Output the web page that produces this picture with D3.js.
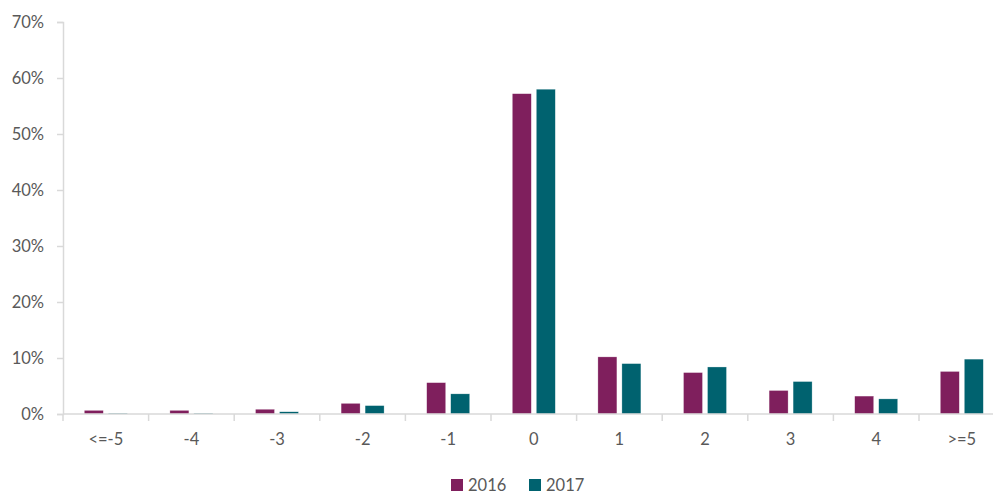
<!DOCTYPE html>
<html>
<head>
<meta charset="utf-8">
<script src="https://cdn.jsdelivr.net/npm/d3@7"></script>
<style>
  body { margin: 0; background: #fff; }
  svg { display: block; font-family: Lato, "Open Sans", sans-serif; }
</style>
</head>
<body>
<svg id="chart" width="993" height="494"></svg>
<script>
// data
const categories = ["<=-5", "-4", "-3", "-2", "-1", "0", "1", "2", "3", "4", ">=5"];
const years = ["2016", "2017"];
const values2016 = [0.65, 0.65, 0.85, 1.9, 5.6, 57.2, 10.2, 7.4, 4.2, 3.2, 7.6];
const values2017 = [0.15, 0.15, 0.4, 1.5, 3.6, 58.0, 9.0, 8.4, 5.8, 2.7, 9.8];
const yTicks = [0, 10, 20, 30, 40, 50, 60, 70];
const colors = ["#7f1f5d", "#00626f"];

const svg = d3.select("#chart");
const plotLeft = 63, plotTop = 22, plotBottom = 414;
const band = 85.6;

// x band scale, the last band runs past the right edge like the original
const x = d3.scaleBand()
  .domain(categories)
  .range([plotLeft, plotLeft + band * categories.length])
  .paddingInner(0).paddingOuter(0);

const y = d3.scaleLinear().domain([0, 70]).range([plotBottom, plotTop]);

const barW = 19, gap = 5;

// y axis
const yAxis = svg.append("g")
  .attr("transform", "translate(" + plotLeft + ",0)")
  .call(d3.axisLeft(y).tickValues(yTicks).tickFormat(d => d + "%").tickSize(6).tickPadding(13));
yAxis.select(".domain").attr("stroke", "#d9d9d9").attr("stroke-width", 1.5);
yAxis.selectAll(".tick line").attr("stroke", "#d9d9d9").attr("stroke-width", 1.5);
yAxis.selectAll("text").attr("fill", "#595959").style("font-size", "16.5px").style("font-family", "Lato, 'Open Sans', sans-serif");

// bars
const series = [values2016, values2017];
series.forEach(function (vals, s) {
  svg.append("g").selectAll("rect")
    .data(vals)
    .join("rect")
    .attr("x", (d, i) => x(categories[i]) + x.bandwidth() / 2 - (barW + gap / 2) + s * (barW + gap))
    .attr("y", d => y(d))
    .attr("width", barW)
    .attr("height", d => plotBottom - y(d))
    .attr("fill", colors[s])
    .attr("stroke", "#ffffff")
    .attr("stroke-opacity", 0.6)
    .attr("stroke-width", 0.5);
});

// x axis, drawn over the bar bottoms
const xAxis = svg.append("g")
  .attr("transform", "translate(0," + plotBottom + ")")
  .call(d3.axisBottom(x).tickSize(0).tickPadding(19));
xAxis.select(".domain").attr("stroke", "#d9d9d9").attr("stroke-width", 1.5)
  .attr("d", "M" + plotLeft + ",0H993");
xAxis.selectAll("text").attr("fill", "#595959").style("font-size", "16.5px").style("font-family", "Lato, 'Open Sans', sans-serif");
// tick marks sit on band boundaries
svg.append("g").selectAll("line")
  .data(categories)
  .join("line")
  .attr("x1", d => x(d)).attr("x2", d => x(d))
  .attr("y1", plotBottom).attr("y2", plotBottom + 7)
  .attr("stroke", "#d9d9d9").attr("stroke-width", 1.5);

// legend
const legend = svg.append("g").attr("transform", "translate(451,479)");
const item = legend.selectAll("g")
  .data(years)
  .join("g")
  .attr("transform", (d, i) => "translate(" + i * 78 + ",0)");
item.append("rect").attr("width", 12).attr("height", 12).attr("fill", (d, i) => colors[i]);
item.append("text")
  .attr("x", 17).attr("y", 6).attr("dy", "0.35em")
  .attr("fill", "#595959").style("font-size", "16.5px")
  .text(d => d);
</script>
</body>
</html>
